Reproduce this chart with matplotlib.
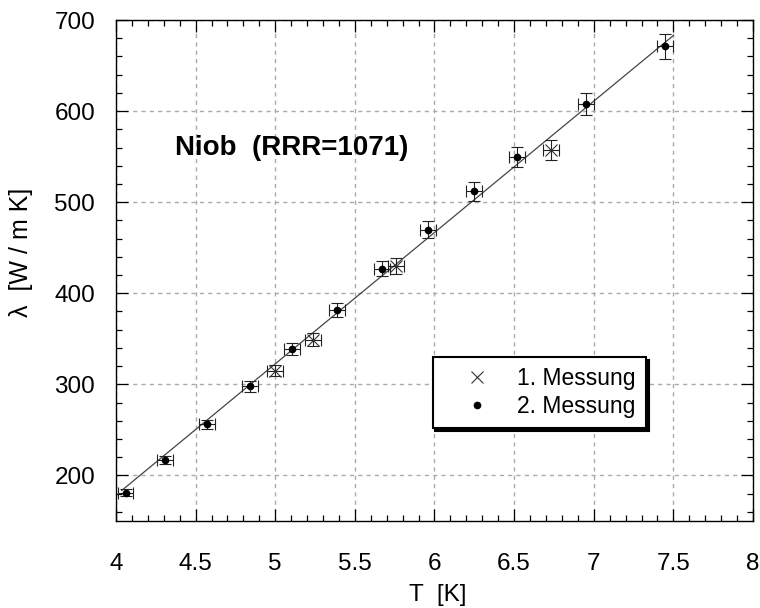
import matplotlib
matplotlib.use('Agg')
import matplotlib.pyplot as plt
from matplotlib.ticker import MultipleLocator, FormatStrFormatter

plt.rcParams['font.family'] = ['Liberation Sans', 'DejaVu Sans']

# 1. Messung (crosses)
T1 = [5.00, 5.24, 5.76, 6.73]
lam1 = [315, 349, 430, 557]

# 2. Messung (dots)
T2 = [4.06, 4.31, 4.57, 4.84, 5.107, 5.386, 5.67, 5.957, 6.248, 6.518, 6.95, 7.45]
lam2 = [181, 217, 256, 298, 339, 382, 427, 470, 512, 550, 608, 671]

# error bars
dT = 0.05
rel_err = 0.02

# linear fit line
fit_T = [4.036, 7.50]
fit_lam = [183.5, 683]

fig = plt.figure(figsize=(7.6, 6.08), dpi=100)
ax = fig.add_axes([0.1526, 0.1431, 0.8382, 0.8240])

ax.plot(fit_T, fit_lam, color='#444444', lw=0.9, zorder=2)

err_kw = dict(ecolor='#222222', elinewidth=0.8, capsize=4, capthick=0.8, zorder=3)
ax.errorbar(T1, lam1, xerr=dT, yerr=[v * rel_err for v in lam1], fmt='none', **err_kw)
ax.errorbar(T2, lam2, xerr=dT, yerr=[v * rel_err for v in lam2], fmt='none', **err_kw)
ax.plot(T1, lam1, ls='none', marker='x', ms=8, mew=0.8, color='#333333', zorder=4,
        label='1. Messung')
ax.plot(T2, lam2, ls='none', marker='o', ms=4.5, color='black', zorder=4,
        label='2. Messung')

ax.set_xlim(4, 8)
ax.set_ylim(150, 700)
ax.xaxis.set_major_locator(MultipleLocator(0.5))
ax.xaxis.set_minor_locator(MultipleLocator(0.1))
ax.xaxis.set_major_formatter(FormatStrFormatter('%g'))
ax.yaxis.set_major_locator(MultipleLocator(100))
ax.yaxis.set_minor_locator(MultipleLocator(20))
ax.grid(True, which='major', color='#aaaaaa', ls=(0, (3, 3)), lw=1)

ax.tick_params(which='both', direction='in', top=True, right=True, width=0.9)
ax.tick_params(which='major', length=8.5)
ax.tick_params(which='minor', length=4.3)
ax.tick_params(axis='x', which='major', labelsize=17.5, pad=23)
ax.tick_params(axis='y', which='major', labelsize=17.5, pad=15)
for s in ax.spines.values():
    s.set_linewidth(1.0)

ax.set_xlabel('T  [K]', fontsize=17.5)
ax.xaxis.set_label_coords(0.505, -0.126)
ax.set_ylabel('λ  [W / m K]', fontsize=18)
ax.yaxis.set_label_coords(-0.130, 0.537)

ax.text(4.37, 560, 'Niob  (RRR=1071)', fontsize=20, fontweight='bold',
        ha='left', va='center')

leg = ax.legend(loc='upper left', bbox_to_anchor=(0.497, 0.327), borderaxespad=0,
                fontsize=16.5, frameon=True, fancybox=False, edgecolor='black',
                framealpha=1, borderpad=0.45, handlelength=3.0, handletextpad=0.25,
                labelspacing=0.2, shadow={'color': 'black', 'alpha': 1})
leg.get_frame().set_linewidth(1.5)

fig.savefig('out.png', dpi=100)
